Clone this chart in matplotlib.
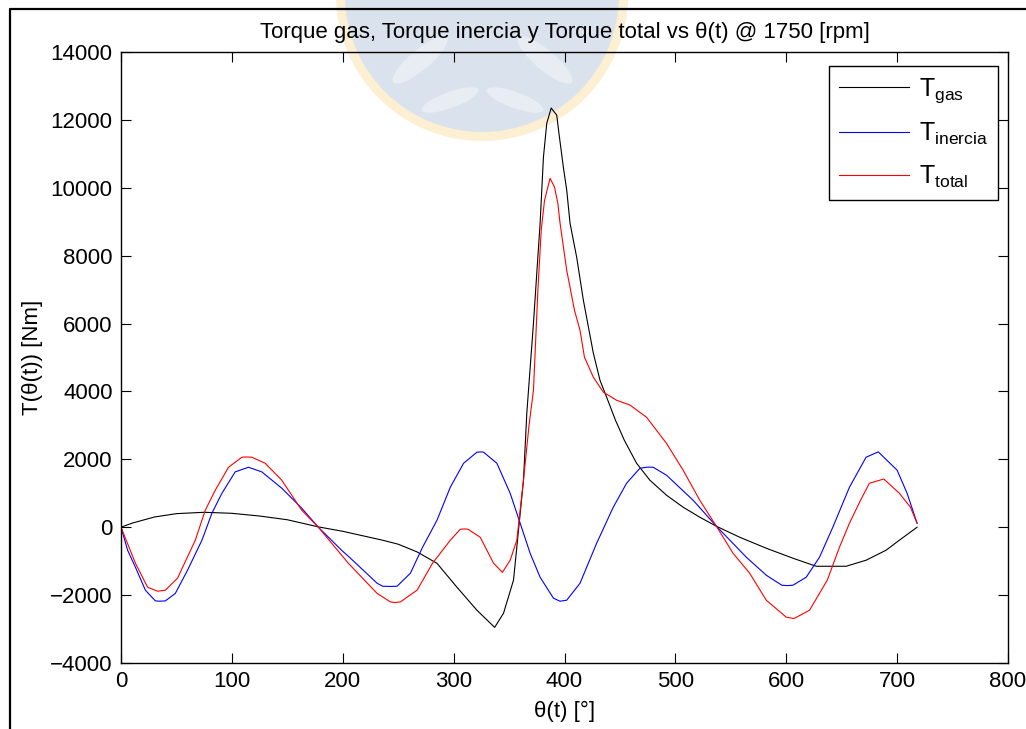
import numpy as np
from matplotlib import pyplot as plt
from matplotlib.patches import Circle, Ellipse

# T_gas (black)
gas_x = [0, 10, 30, 50, 75, 100, 125, 150, 178, 200, 236, 250, 267, 285, 303, 321, 337,
         345, 354, 357, 363, 366, 372, 378, 381, 384, 388, 393, 395, 399, 402, 405, 411,
         417, 426, 432, 438, 446, 454, 465, 477, 492, 507, 522, 537, 558, 582, 606, 627,
         654, 672, 690, 702, 718]
gas_y = [0, 120, 300, 400, 440, 410, 330, 220, 10, -120, -383, -500, -727, -1063, -1768,
         -2445, -2950, -2534, -1560, -589, 1385, 3358, 6010, 8955, 10900, 11900, 12350,
         12140, 11600, 10600, 9930, 8955, 7950, 6690, 5130, 4330, 3830, 3150, 2560, 1885,
         1385, 943, 590, 295, 29, -295, -619, -913, -1150, -1150, -972, -678, -383, 0]

# T_inercia (blue)
in_x = [0, 6, 13, 22, 31, 35, 40, 49, 60, 73, 82, 91, 103, 115, 127, 145, 163, 178, 199,
        206, 231, 236, 243, 249, 261, 272, 285, 297, 309, 321, 325, 327, 339, 351, 360,
        369, 378, 390, 396, 402, 414, 429, 444, 456, 468, 475, 480, 492, 516, 537, 564,
        582, 596, 601, 606, 618, 630, 642, 657, 672, 683, 700, 709, 718]
in_y = [0, -680, -1178, -1856, -2170, -2180, -2170, -1950, -1267, -383, 412, 1000, 1630,
        1767, 1630, 1150, 560, 0, -680, -884, -1650, -1738, -1745, -1738, -1355, -589, 206,
        1178, 1885, 2210, 2220, 2210, 1885, 1000, 118, -766, -1473, -2090, -2180, -2150,
        -1650, -471, 590, 1296, 1738, 1770, 1767, 1532, 795, 29, -884, -1414, -1709, -1720,
        -1709, -1473, -884, 0, 1178, 2062, 2220, 1680, 1000, 118]

# T_total (red)
tot_x = [0, 13, 24, 33, 40, 51, 67, 76, 85, 97, 109, 113, 118, 130, 145, 163, 178, 205,
         231, 243, 247, 252, 267, 281, 297, 306, 310, 313, 324, 336, 344, 351, 357, 363,
         368, 372, 376, 379, 382, 387, 391, 394, 396, 402, 409, 414, 418, 426, 435, 447,
         459, 474, 492, 507, 522, 537, 552, 567, 582, 600, 607, 621, 637, 648, 657, 667,
         675, 688, 702, 712, 718]
tot_y = [0, -1060, -1768, -1885, -1856, -1500, -383, 500, 1090, 1767, 2062, 2070, 2062,
         1885, 1385, 500, 0, -1060, -1950, -2200, -2220, -2200, -1856, -1060, -383, -60,
         -50, -60, -295, -1060, -1330, -972, -383, 1385, 3000, 4035, 6980, 8750, 9630,
         10280, 10020, 9540, 8955, 7570, 6390, 5800, 5010, 4420, 3980, 3740, 3600, 3240,
         2470, 1680, 795, 29, -766, -1355, -2150, -2650, -2690, -2445, -1560, -589, 118,
         795, 1296, 1420, 1000, 590, 118]

plt.rcParams['font.family'] = ['Liberation Sans', 'DejaVu Sans']

W, H = 1026, 729
fig = plt.figure(figsize=(W/100, H/100), dpi=100, facecolor='white')

# background: watermark logo and figure border, in pixel units
bg = fig.add_axes([0, 0, 1, 1], zorder=0)
bg.set_xlim(0, W)
bg.set_ylim(H, 0)
bg.axis('off')
bg.add_patch(Circle((482, -5), 146, facecolor='#fcefd2', edgecolor='none'))
bg.add_patch(Circle((482, -5), 137, facecolor='#dae3ed', edgecolor='none'))
for cx, cy, w, h, a in [(420, 60, 70, 20, -40), (545, 60, 70, 20, 40),
                        (450, 100, 60, 16, -20), (515, 100, 60, 16, 20)]:
    bg.add_patch(Ellipse((cx, cy), w, h, angle=a, facecolor='#e8edf3', edgecolor='none'))
bg.plot([10, 10, W], [H, 9, 9], color='black', lw=1.6, solid_capstyle='butt')

ax = fig.add_axes([121/W, 1 - 663/H, (1008 - 121)/W, (663 - 52)/H], zorder=1)
ax.set_facecolor('none')
ax.plot(gas_x, gas_y, color='black', lw=0.8, label=r'$\mathregular{T_{gas}}$')
ax.plot(in_x, in_y, color='blue', lw=0.8, label=r'$\mathregular{T_{inercia}}$')
ax.plot(tot_x, tot_y, color='red', lw=0.8, label=r'$\mathregular{T_{total}}$')

ax.set_xlim(0, 800)
ax.set_ylim(-4000, 14000)
ax.set_xticks(np.arange(0, 801, 100))
ax.set_yticks(np.arange(-4000, 14001, 2000))
ax.tick_params(direction='in', length=7, width=0.8, top=True, right=True,
               labelsize=16, pad=6)
for s in ax.spines.values():
    s.set_linewidth(1.0)

ax.set_title(u'Torque gas, Torque inercia y Torque total vs \u03b8(t) @ 1750 [rpm]',
             fontsize=16, pad=10)
ax.set_xlabel(u'\u03b8(t) [\u00b0]', fontsize=16, labelpad=6)
ax.set_ylabel(u'T(\u03b8(t)) [Nm]', fontsize=16, labelpad=5)

leg = ax.legend(loc='upper right', bbox_to_anchor=(998/W, 1 - 66/H), bbox_transform=fig.transFigure,
                fontsize=18, fancybox=False, framealpha=1, edgecolor='black',
                handlelength=2.8, borderpad=0.4, labelspacing=0.65, handletextpad=0.4,
                borderaxespad=0)
leg.get_frame().set_linewidth(1.0)

fig.savefig('out.png', dpi=100)
